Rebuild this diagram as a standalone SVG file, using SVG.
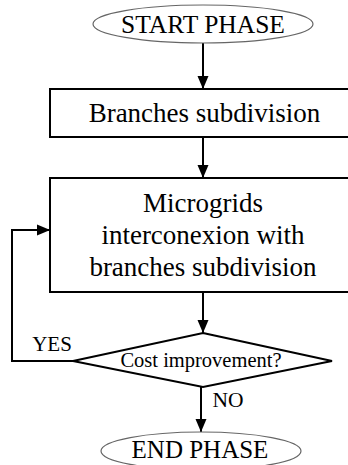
<svg xmlns="http://www.w3.org/2000/svg" width="348" height="465" viewBox="0 0 348 465">
<style>
text{font-family:"Liberation Serif","Times New Roman",serif;fill:#000;text-anchor:middle}
.term{fill:#fff;stroke:#666;stroke-width:1.2}
.box{fill:#fff;stroke:#000;stroke-width:2}
.conn{fill:none;stroke:#000;stroke-width:2}
</style>
<defs>
<marker id="ah" markerWidth="12" markerHeight="13" viewBox="0 0 12 13" refX="13" refY="6.5" orient="auto" markerUnits="userSpaceOnUse">
<path d="M0,1 L13,6.5 L0,12 Z" fill="#000"/>
</marker>
</defs>
<g id="connectors">
<line class="conn" x1="203" y1="43" x2="203" y2="89" marker-end="url(#ah)"/>
<line class="conn" x1="203" y1="137" x2="203" y2="178" marker-end="url(#ah)"/>
<line class="conn" x1="203" y1="292" x2="203" y2="333" marker-end="url(#ah)"/>
<line class="conn" x1="201" y1="387" x2="201" y2="432" marker-end="url(#ah)"/>
<polyline class="conn" points="73,361 12,361 12,230 50,230" marker-end="url(#ah)"/>
<text x="52" y="351" font-size="21">YES</text>
<text x="228" y="407" font-size="21.5">NO</text>
</g>
<g id="start">
<ellipse class="term" cx="203" cy="24" rx="110" ry="19"/>
<text x="203" y="33" font-size="25.5">START PHASE</text>
</g>
<g id="branches">
<rect class="box" x="50" y="89" width="306" height="48"/>
<text x="204.5" y="122" font-size="27">Branches subdivision</text>
</g>
<g id="interconexion">
<rect class="box" x="50" y="178" width="306" height="114"/>
<text x="203" y="212" font-size="27">Microgrids</text>
<text x="203" y="244" font-size="27">interconexion with</text>
<text x="203" y="276" font-size="27">branches subdivision</text>
</g>
<g id="decision">
<polygon class="box" points="203,333 332,361 203,387 73,361"/>
<text x="201" y="367" font-size="20.5">Cost improvement?</text>
</g>
<g id="end">
<ellipse class="term" cx="201" cy="451" rx="100" ry="19"/>
<text x="200" y="458" font-size="25">END PHASE</text>
</g>
</svg>
